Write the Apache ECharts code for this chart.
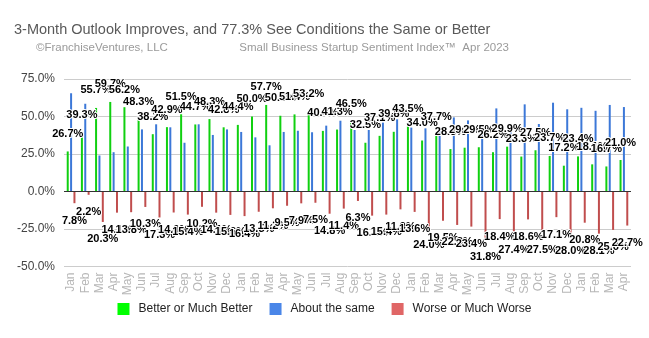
<!DOCTYPE html>
<html>
<head>
<meta charset="utf-8">
<script src="https://cdn.jsdelivr.net/npm/echarts@6/dist/echarts.min.js"></script>
<style>
html,body{margin:0;padding:0;background:#fff;}
#chart{width:649px;height:338px;}
</style>
</head>
<body>
<div id="chart"></div>
<script>
// Categories: Jan 2020 .. Apr 2023
const monthNames = ['Jan','Feb','Mar','Apr','May','Jun','Jul','Aug','Sep','Oct','Nov','Dec'];
const categories = [
  'Jan 2020','Feb 2020','Mar 2020','Apr 2020','May 2020','Jun 2020','Jul 2020','Aug 2020','Sep 2020','Oct 2020','Nov 2020','Dec 2020',
  'Jan 2021','Feb 2021','Mar 2021','Apr 2021','May 2021','Jun 2021','Jul 2021','Aug 2021','Sep 2021','Oct 2021','Nov 2021','Dec 2021',
  'Jan 2022','Feb 2022','Mar 2022','Apr 2022','May 2022','Jun 2022','Jul 2022','Aug 2022','Sep 2022','Oct 2022','Nov 2022','Dec 2022',
  'Jan 2023','Feb 2023','Mar 2023','Apr 2023'
];
const betterValues = [26.7,39.3,55.7,59.7,56.2,48.3,38.2,42.9,51.5,44.7,48.3,42.8,
                      44.4,50.0,57.7,50.5,51.4,53.2,40.4,41.3,46.5,32.5,37.1,39.8,
                      43.5,34.0,37.7,28.3,29.2,29.5,26.2,29.9,23.3,27.5,23.7,17.2,
                      23.4,18.1,16.7,21.0];
const sameValues = [65.5,58.5,24.0,26.2,30.0,41.4,44.8,42.8,32.5,44.8,37.7,41.4,
                    39.7,36.1,30.8,39.7,40.5,39.5,43.9,47.2,41.0,41.0,45.9,48.1,
                    42.6,42.1,42.8,49.4,47.4,38.7,55.4,42.7,58.1,45.0,59.2,54.8,
                    55.8,53.8,57.7,56.3];
const worseValues = [-7.8,-2.2,-20.3,-14.1,-13.8,-10.3,-17.3,-14.0,-15.4,-10.2,-14.1,-15.6,
                     -16.4,-13.5,-11.2,-9.5,-7.9,-7.5,-14.8,-11.4,-6.3,-16.1,-15.4,-11.9,
                     -13.6,-24.0,-19.5,-22.3,-23.4,-31.8,-18.4,-27.4,-18.6,-27.5,-17.1,-28.0,
                     -20.8,-28.1,-25.6,-22.7];
const seriesNames = ['Better or Much Better','About the same','Worse or Much Worse'];
const yTicks = {min: -50, max: 75, interval: 25};

const FONT = '"Liberation Sans", Arial, sans-serif';
const pctLabel = {
  show: true,
  fontFamily: FONT,
  fontSize: 11,
  fontWeight: 'bold',
  color: '#000',
  textBorderColor: '#fff',
  textBorderWidth: 2,
  distance: 12,
  formatter: p => Math.abs(p.value).toFixed(1) + '%'
};

const chart = echarts.init(document.getElementById('chart'), null, {renderer: 'canvas'});
chart.setOption({
  animation: false,
  backgroundColor: '#fff',
  textStyle: {fontFamily: FONT},
  title: [
    {text: '3-Month Outlook Improves, and 77.3% See Conditions the Same or Better',
     left: 14, top: 22, padding: 0,
     textStyle: {fontFamily: FONT, fontSize: 14.5, fontWeight: 'normal', color: '#595959'}},
    {text: '©FranchiseVentures, LLC', left: 36, top: 42, padding: 0,
     textStyle: {fontFamily: FONT, fontSize: 11.5, fontWeight: 'normal', color: '#9a9a9a'}},
    {text: 'Small Business Startup Sentiment Index™  Apr 2023', right: 140, top: 42, padding: 0,
     textStyle: {fontFamily: FONT, fontSize: 11.5, fontWeight: 'normal', color: '#9a9a9a'}}
  ],
  legend: {
    bottom: 18,
    left: 'center',
    icon: 'rect',
    itemWidth: 12,
    itemHeight: 12,
    itemGap: 17,
    textStyle: {fontFamily: FONT, fontSize: 12, color: '#222', padding: [0, 0, 0, 4]},
    data: [
      {name: seriesNames[0], itemStyle: {color: '#00ff00'}},
      {name: seriesNames[1], itemStyle: {color: '#4a86e8'}},
      {name: seriesNames[2], itemStyle: {color: '#e06666'}}
    ]
  },
  grid: {left: 64, right: 18, top: 79, bottom: 71.5, containLabel: false},
  xAxis: {
    type: 'category',
    data: categories,
    axisLine: {show: false},
    axisTick: {show: false},
    axisLabel: {
      interval: 0, rotate: 90, margin: 6,
      fontFamily: FONT, fontSize: 12, color: '#b7b7b7',
      formatter: v => v.split(' ')[0]
    }
  },
  yAxis: {
    type: 'value',
    min: yTicks.min, max: yTicks.max, interval: yTicks.interval,
    axisLine: {show: false},
    axisTick: {show: false},
    splitLine: {lineStyle: {color: '#cccccc', width: 1}},
    axisLabel: {fontFamily: FONT, fontSize: 12, color: '#444', margin: 9,
      formatter: v => v.toFixed(1) + '%'}
  },
  series: [
    {name: seriesNames[0], type: 'bar', data: betterValues, barWidth: 2, barGap: '68%',
     itemStyle: {color: '#10d010'},
     label: Object.assign({}, pctLabel, {position: 'top'})},
    {name: seriesNames[1], type: 'bar', data: sameValues, barWidth: 2, barGap: '68%',
     itemStyle: {color: '#3c78d8'},
     markLine: {silent: true, symbol: 'none', label: {show: false},
       lineStyle: {color: '#333', width: 1, type: 'solid'},
       data: [{yAxis: 0}]}},
    {name: seriesNames[2], type: 'bar', data: worseValues, barWidth: 2, barGap: '68%',
     itemStyle: {color: '#c04d4d'},
     label: Object.assign({}, pctLabel, {position: 'bottom'})}
  ]
});
</script>
</body>
</html>
